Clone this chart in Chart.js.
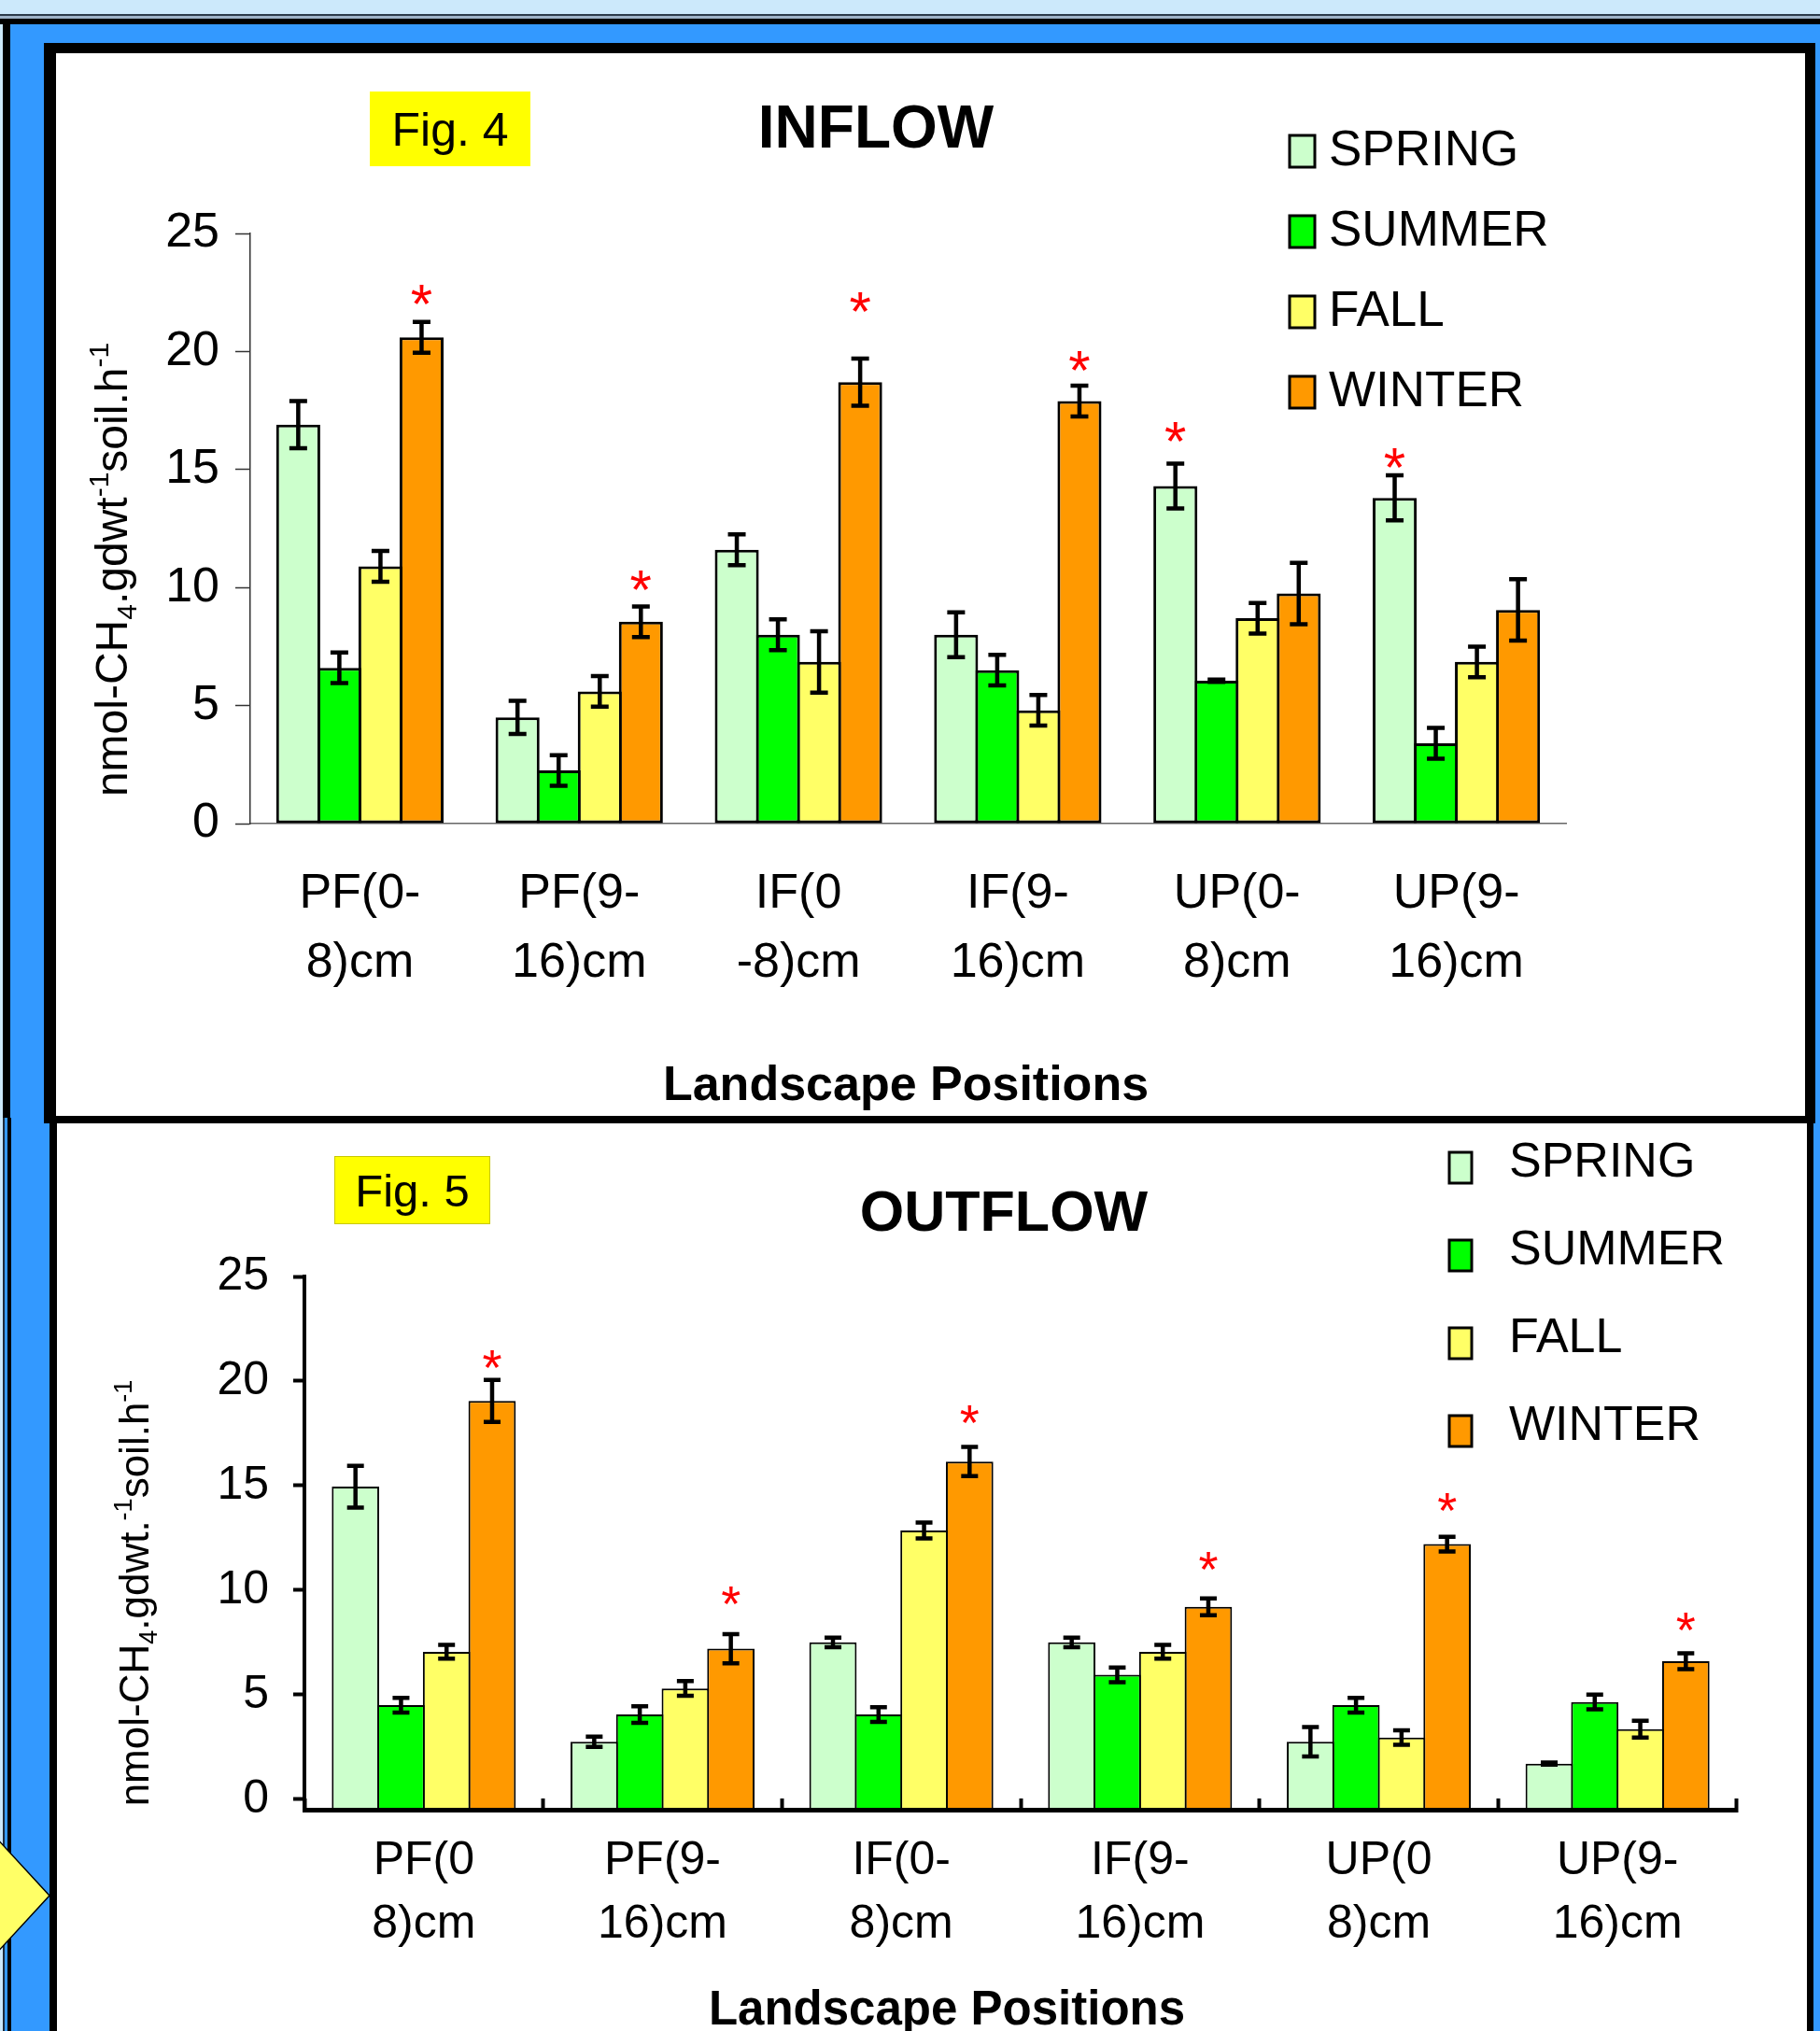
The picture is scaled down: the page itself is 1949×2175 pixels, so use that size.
<!DOCTYPE html>
<html>
<head>
<meta charset="utf-8">
<title>Fig. 4 / Fig. 5 - CH4 inflow and outflow</title>
<script src="https://cdn.jsdelivr.net/npm/chart.js@4.4.1/dist/chart.umd.min.js"></script>
<style>
  html, body { margin: 0; padding: 0; }
  body { width: 1949px; height: 2175px; position: relative; overflow: hidden; background: #3399ff; }
  .abs { position: absolute; }
  #stripTop   { left: 0; top: 0;  width: 1949px; height: 15px; background: #cce9fb; }
  #stripLine1 { left: 0; top: 15px; width: 1949px; height: 2px; background: #2b3a4a; }
  #stripLine2 { left: 0; top: 17px; width: 1949px; height: 3px; background: #9fb3c8; }
  #stripLine3 { left: 0; top: 20px; width: 1949px; height: 6px; background: #000; }
  #edgeLight  { left: 0; top: 26px; width: 3px; height: 2149px; background: #cce9fb; }
  #edgeDark1  { left: 3px; top: 26px; width: 8px; height: 1171px; background: #000; }
  #edgeDark2  { left: 3px; top: 1197px; width: 2px; height: 978px; background: #1d2b3a; }
  #edgeDark3  { left: 8px; top: 1197px; width: 4px; height: 978px; background: #000; }
  #panel1 { left: 47px; top: 46px; width: 1873px; height: 1138px; background: #fff;
            border-style: solid; border-color: #000; border-width: 11px 11px 8px 13px; }
  #panel2 { left: 53px; top: 1195px; width: 1874px; height: 972px; background: #fff;
            border-style: solid; border-color: #000; border-width: 8px 7px 0 8px; }
  canvas { position: absolute; left: 0; top: 0; }
</style>
</head>
<body>
<div class="abs" id="stripTop"></div>
<div class="abs" id="stripLine1"></div>
<div class="abs" id="stripLine2"></div>
<div class="abs" id="stripLine3"></div>
<div class="abs" id="edgeLight"></div>
<div class="abs" id="edgeDark1"></div>
<div class="abs" id="edgeDark2"></div>
<div class="abs" id="edgeDark3"></div>
<svg class="abs" style="left:0;top:1950px" width="60" height="160">
  <polygon points="53,80 -6,16 -6,144" fill="#ffff66" stroke="#000" stroke-width="1.5"/>
</svg>
<div class="abs" id="panel1"><canvas id="inflow-chart" width="1873" height="1138"></canvas></div>
<div class="abs" id="panel2"><canvas id="outflow-chart" width="1874" height="972"></canvas></div>

<script>
const FONT = '"Liberation Sans", Arial, Helvetica, sans-serif';

// Series names / colours shared by both figures
const seasons = ['SPRING', 'SUMMER', 'FALL', 'WINTER'];
const seasonColors = ['#ccffcc', '#00ff00', '#ffff66', '#ff9900'];
const yTicks = [0, 5, 10, 15, 20, 25];

// ---- Fig. 4 : INFLOW (nmol CH4 per g dry wt soil per h) ----
const inflowLabels = [['PF(0-', '8)cm'], ['PF(9-', '16)cm'], ['IF(0', '-8)cm'], ['IF(9-', '16)cm'], ['UP(0-', '8)cm'], ['UP(9-', '16)cm']];
const inflowSpring = [16.9, 4.5, 11.6, 8.0, 14.3, 13.8];
const inflowSummer = [6.6, 2.25, 8.0, 6.5, 6.05, 3.4];
const inflowFall   = [10.9, 5.6, 6.85, 4.8, 8.7, 6.85];
const inflowWinter = [20.6, 8.55, 18.7, 17.9, 9.75, 9.05];
const inflowSpringErr = [1.0, 0.7, 0.65, 0.95, 0.95, 0.95];
const inflowSummerErr = [0.65, 0.65, 0.65, 0.65, 0.05, 0.65];
const inflowFallErr   = [0.65, 0.65, 1.3, 0.65, 0.65, 0.65];
const inflowWinterErr = [0.65, 0.65, 1.0, 0.65, 1.3, 1.3];
// heights of the significance asterisks
const inflowSpringStar = [null, null, null, null, 16.6, 15.5];
const inflowWinterStar = [22.4, 10.3, 22.1, 19.6, null, null];

// ---- Fig. 5 : OUTFLOW ----
const outflowLabels = [['PF(0', '8)cm'], ['PF(9-', '16)cm'], ['IF(0-', '8)cm'], ['IF(9-', '16)cm'], ['UP(0', '8)cm'], ['UP(9-', '16)cm']];
const outflowSpring = [14.95, 2.75, 7.5, 7.5, 2.75, 1.7];
const outflowSummer = [4.5, 4.05, 4.05, 5.95, 4.5, 4.65];
const outflowFall   = [7.05, 5.3, 12.85, 7.05, 2.95, 3.35];
const outflowWinter = [19.05, 7.2, 16.15, 9.2, 12.2, 6.6];
const outflowSpringErr = [1.0, 0.25, 0.23, 0.23, 0.7, 0.05];
const outflowSummerErr = [0.35, 0.4, 0.35, 0.35, 0.35, 0.35];
const outflowFallErr   = [0.33, 0.35, 0.38, 0.33, 0.35, 0.4];
const outflowWinterErr = [1.0, 0.7, 0.7, 0.4, 0.35, 0.38];
const outflowWinterStar = [21.05, 9.75, 18.4, 11.4, 14.2, 8.5];
const noStars = [null, null, null, null, null, null];

function seasonDatasets(values, errors, stars, style) {
  return seasons.map((name, k) => {
    const ds = {
      label: name,
      data: values[k],
      errors: errors[k],
      stars: stars[k],
      backgroundColor: seasonColors[k],
      borderColor: '#000',
      borderWidth: style.border,
      borderSkipped: false,
      barPercentage: style.barPct,
      categoryPercentage: style.catPct
    };
    if (style.base !== undefined) ds.base = style.base;
    return ds;
  });
}

// draws text with sub/superscript parts, rotated to read bottom-to-top
function drawVerticalRich(ctx, parts, cx, cy, size) {
  ctx.save();
  ctx.translate(cx, cy);
  ctx.rotate(-Math.PI / 2);
  const fontOf = p => ((p.sub || p.sup) ? Math.round(size * 0.62) : size) + 'px ' + FONT;
  let total = 0;
  parts.forEach(p => { ctx.font = fontOf(p); total += ctx.measureText(p.t).width; });
  let x = -total / 2;
  ctx.fillStyle = '#000';
  ctx.textAlign = 'left';
  ctx.textBaseline = 'alphabetic';
  parts.forEach(p => {
    ctx.font = fontOf(p);
    const dy = p.sub ? size * 0.2 : (p.sup ? -size * 0.42 : 0);
    ctx.fillText(p.t, x, dy);
    x += ctx.measureText(p.t).width;
  });
  ctx.restore();
}

// error bars, asterisks, titles, legend and the figure tag
function decor(d) {
  return {
    id: 'decor',
    afterDatasetsDraw(chart) {
      const ctx = chart.ctx;
      const ys = chart.scales.y;
      ctx.save();
      chart.data.datasets.forEach((ds, di) => {
        chart.getDatasetMeta(di).data.forEach((bar, i) => {
          const v = ds.data[i];
          const e = ds.errors[i];
          const yTop = ys.getPixelForValue(v + e);
          const yBot = ys.getPixelForValue(v - e);
          ctx.strokeStyle = '#000';
          ctx.lineWidth = d.errWidth;
          ctx.beginPath();
          ctx.moveTo(bar.x, yTop); ctx.lineTo(bar.x, yBot);
          ctx.moveTo(bar.x - d.capHalf, yTop); ctx.lineTo(bar.x + d.capHalf, yTop);
          ctx.moveTo(bar.x - d.capHalf, yBot); ctx.lineTo(bar.x + d.capHalf, yBot);
          ctx.stroke();

          const s = ds.stars[i];
          if (s !== null) {
            ctx.font = d.starSize + 'px ' + FONT;
            ctx.fillStyle = '#ff0000';
            ctx.textAlign = 'center';
            ctx.textBaseline = 'alphabetic';
            const m = ctx.measureText('*');
            const yc = ys.getPixelForValue(s);
            ctx.fillText('*', bar.x, yc + (m.actualBoundingBoxAscent - m.actualBoundingBoxDescent) / 2);
          }
        });
      });
      ctx.restore();
    },
    afterDraw(chart) {
      const ctx = chart.ctx;
      ctx.save();
      // figure tag
      ctx.fillStyle = '#ffff00';
      ctx.fillRect(d.fig.x, d.fig.y, d.fig.w, d.fig.h);
      if (d.fig.stroke) {
        ctx.strokeStyle = d.fig.stroke;
        ctx.lineWidth = 1;
        ctx.strokeRect(d.fig.x + 0.5, d.fig.y + 0.5, d.fig.w - 1, d.fig.h - 1);
      }
      ctx.fillStyle = '#000';
      ctx.textAlign = 'center';
      ctx.textBaseline = 'alphabetic';
      ctx.font = d.fig.size + 'px ' + FONT;
      ctx.fillText(d.fig.text, d.fig.x + d.fig.w / 2, d.fig.base);

      // chart title
      ctx.font = 'bold ' + d.title.size + 'px ' + FONT;
      ctx.fillText(d.title.text, d.title.x, d.title.base);

      // x axis title
      ctx.font = 'bold ' + d.xTitle.size + 'px ' + FONT;
      ctx.fillText('Landscape Positions', d.xTitle.x, d.xTitle.base);

      // legend
      ctx.textAlign = 'left';
      ctx.font = d.legend.size + 'px ' + FONT;
      seasons.forEach((name, k) => {
        const base = d.legend.base0 + k * d.legend.step;
        const top = base - d.legend.boxUp;
        ctx.fillStyle = seasonColors[k];
        ctx.fillRect(d.legend.boxX, top, d.legend.boxW, d.legend.boxH);
        ctx.strokeStyle = '#000';
        ctx.lineWidth = 3;
        ctx.strokeRect(d.legend.boxX, top, d.legend.boxW, d.legend.boxH);
        ctx.fillStyle = '#000';
        ctx.fillText(name, d.legend.textX, base);
      });

      // y axis title with subscript / superscripts
      drawVerticalRich(ctx, d.yTitle.parts, d.yTitle.x, d.yTitle.y, d.yTitle.size);
      ctx.restore();
    }
  };
}

// ---------- Fig. 4 ----------
new Chart(document.getElementById('inflow-chart'), {
  type: 'bar',
  data: {
    labels: inflowLabels,
    datasets: seasonDatasets(
      [inflowSpring, inflowSummer, inflowFall, inflowWinter],
      [inflowSpringErr, inflowSummerErr, inflowFallErr, inflowWinterErr],
      [inflowSpringStar, noStars, noStars, inflowWinterStar],
      { border: 3, barPct: 1.07, catPct: 0.75 })
  },
  options: {
    responsive: false,
    animation: false,
    devicePixelRatio: 1,
    layout: { padding: { left: 0, right: 256, top: 193, bottom: 0 } },
    plugins: { legend: { display: false }, tooltip: { enabled: false } },
    scales: {
      x: {
        grid: { display: false, drawTicks: false },
        border: { display: true, color: '#666', width: 1.5 },
        ticks: {
          color: '#000', padding: 39, maxRotation: 0, autoSkip: false,
          font: { family: FONT, size: 52, lineHeight: 1.42 }
        },
        afterFit: s => { s.height = 313; }
      },
      y: {
        min: 0, max: 25,
        afterBuildTicks: s => { s.ticks = yTicks.map(v => ({ value: v })); },
        grid: { drawOnChartArea: false, drawTicks: true, tickLength: 16, tickColor: '#333', tickWidth: 1.5 },
        border: { display: true, color: '#333', width: 1.5 },
        ticks: { color: '#000', padding: 17, font: { family: FONT, size: 52 } },
        afterFit: s => { s.width = 208; }
      }
    }
  },
  plugins: [decor({
    errWidth: 4.5, capHalf: 9.5, starSize: 60,
    fig: { text: 'Fig. 4', x: 336, y: 41, w: 172, h: 80, base: 99, size: 50 },
    title: { text: 'INFLOW', x: 878, base: 101, size: 64 },
    xTitle: { x: 910, base: 1121, size: 52 },
    legend: { boxX: 1321, boxW: 27, boxH: 34, boxUp: 32, textX: 1363, base0: 120, step: 86, size: 53 },
    yTitle: {
      x: 76, y: 553, size: 48,
      parts: [{ t: 'nmol-CH' }, { t: '4', sub: true }, { t: '.gdwt' }, { t: '-1', sup: true }, { t: 'soil.h' }, { t: '-1', sup: true }]
    }
  })]
});

// ---------- Fig. 5 ----------
new Chart(document.getElementById('outflow-chart'), {
  type: 'bar',
  data: {
    labels: outflowLabels,
    datasets: seasonDatasets(
      [outflowSpring, outflowSummer, outflowFall, outflowWinter],
      [outflowSpringErr, outflowSummerErr, outflowFallErr, outflowWinterErr],
      [noStars, noStars, noStars, outflowWinterStar],
      { border: 2, barPct: 1.04, catPct: 0.763, base: -0.5 })
  },
  options: {
    responsive: false,
    animation: false,
    devicePixelRatio: 1,
    layout: { padding: { left: 0, right: 75, top: 164, bottom: 0 } },
    plugins: { legend: { display: false }, tooltip: { enabled: false } },
    scales: {
      x: {
        grid: { display: true, offset: true, drawOnChartArea: false, drawTicks: true, tickLength: -12, tickWidth: 4, tickColor: '#000' },
        border: { display: true, color: '#000', width: 5 },
        ticks: {
          color: '#000', padding: 33, maxRotation: 0, autoSkip: false,
          font: { family: FONT, size: 50, lineHeight: 1.36 }
        },
        afterFit: s => { s.height = 237; }
      },
      y: {
        min: -0.5, max: 25,
        afterBuildTicks: s => { s.ticks = yTicks.map(v => ({ value: v })); },
        grid: { drawOnChartArea: false, drawTicks: true, tickLength: 12, tickColor: '#000', tickWidth: 4 },
        border: { display: true, color: '#000', width: 4 },
        ticks: { color: '#000', padding: 26, font: { family: FONT, size: 50 } },
        afterFit: s => { s.width = 265; }
      }
    }
  },
  plugins: [decor({
    errWidth: 4.5, capHalf: 9, starSize: 54,
    fig: { text: 'Fig. 5', x: 297, y: 35, w: 167, h: 73, base: 89, size: 49, stroke: '#c8c800' },
    title: { text: 'OUTFLOW', x: 1014, base: 115, size: 61 },
    xTitle: { x: 953, base: 965, size: 51 },
    legend: { boxX: 1491, boxW: 24, boxH: 33, boxUp: 26, textX: 1555, base0: 57, step: 94, size: 52 },
    yTitle: {
      x: 98, y: 503, size: 44,
      parts: [{ t: 'nmol-CH' }, { t: '4', sub: true }, { t: '.gdwt.' }, { t: '-1', sup: true }, { t: 'soil.h' }, { t: '-1', sup: true }]
    }
  })]
});
</script>
</body>
</html>
